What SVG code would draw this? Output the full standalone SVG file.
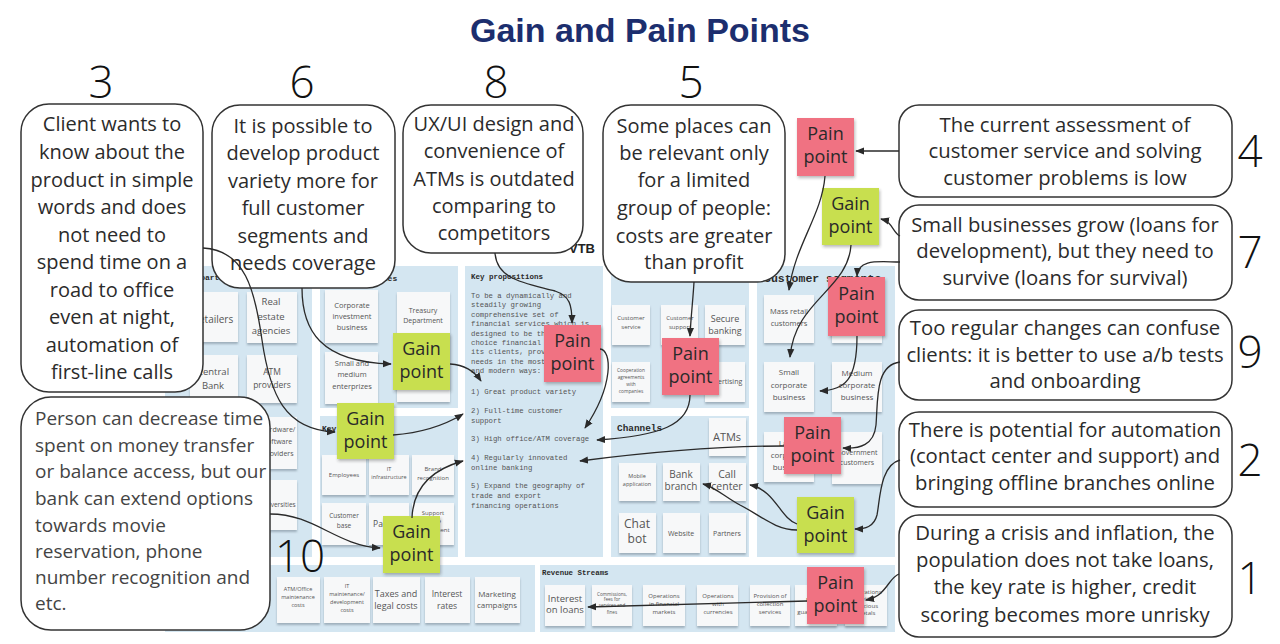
<svg xmlns="http://www.w3.org/2000/svg" width="1280" height="644" viewBox="0 0 1280 644">
<defs>
<filter id="sh" x="-20%" y="-20%" width="140%" height="160%"><feDropShadow dx="0" dy="2" stdDeviation="1.2" flood-color="#5a6a78" flood-opacity="0.45"/></filter>
<filter id="ssh" x="-20%" y="-20%" width="150%" height="150%"><feDropShadow dx="1" dy="2" stdDeviation="1.5" flood-color="#333" flood-opacity="0.35"/></filter>
<marker id="ah" viewBox="0 0 10 10" refX="9" refY="5" markerWidth="9" markerHeight="9" markerUnits="userSpaceOnUse" orient="auto"><path d="M0,1 L10,5 L0,9 z" fill="#2a2a2a"/></marker>
</defs>
<style>
.panel{fill:#d4e6f1}
.card{fill:#f7f8f9;filter:url(#sh)}
.ct{font-family:"Open Sans","Liberation Sans",sans-serif;fill:#555;text-anchor:middle}
.hd{font-family:"Liberation Mono","DejaVu Sans Mono",monospace;font-weight:bold;fill:#2a2a2a}
.mono{font-family:"Liberation Mono","DejaVu Sans Mono",monospace;fill:#555;font-size:7.3px}
.bub{fill:#fff;stroke:#333;stroke-width:1.5}
.bt{font-family:"Open Sans","Liberation Sans",sans-serif;fill:#2b2b2b;font-size:20px;text-anchor:middle}
.br{font-family:"Open Sans","Liberation Sans",sans-serif;fill:#2b2b2b;font-size:20.3px;text-anchor:middle}
.num{font-family:"Open Sans","Liberation Sans",sans-serif;font-weight:300;font-size:44px;fill:#111;text-anchor:middle}
.pain{fill:#f07282;filter:url(#ssh)}
.gain{fill:#c8df50;filter:url(#ssh)}
.st{font-family:"Open Sans","Liberation Sans",sans-serif;font-size:18px;fill:#2a2a2a;text-anchor:middle}
.cn{fill:none;stroke:#2a2a2a;stroke-width:1.3;marker-end:url(#ah)}
</style>
<rect width="1280" height="644" fill="#fff"/>
<text x="640" y="42" font-family="Liberation Sans, Arial, sans-serif" font-weight="bold" font-size="34" fill="#1c2e6e" text-anchor="middle">Gain and Pain Points</text>

<g id="canvas">
<text x="595" y="253" font-family="Liberation Sans, Arial, sans-serif" font-weight="bold" font-size="13" fill="#222" text-anchor="end">VTB</text>
<rect class="panel" x="165" y="266" width="147" height="291"/>
<rect class="panel" x="320" y="266" width="138" height="142"/>
<rect class="panel" x="320" y="416" width="138" height="141"/>
<rect class="panel" x="465" y="266" width="138" height="291"/>
<rect class="panel" x="611" y="266" width="138" height="142"/>
<rect class="panel" x="611" y="416" width="138" height="141"/>
<rect class="panel" x="757" y="266" width="138" height="291"/>
<rect class="panel" x="165" y="565" width="370" height="67"/>
<rect class="panel" x="540" y="565" width="355" height="67"/>

<text class="hd" x="181" y="280" font-size="8">Key partners</text>
<text class="hd" x="330" y="281" font-size="8">Key activities</text>
<text class="hd" x="322" y="431" font-size="8">Key resources</text>
<text class="hd" x="471" y="279" font-size="7.5">Key propositions</text>
<text class="hd" x="617" y="280" font-size="8">Customer relationships</text>
<text class="hd" x="617" y="431" font-size="9.4">Channels</text>
<text class="hd" x="764" y="282" font-size="11.5">Customer segments</text>
<text class="hd" x="542" y="575" font-size="7.4">Revenue Streams</text>

<!-- key partners -->
<rect class="card" x="190" y="292" width="48" height="50"/><text class="ct" x="213" y="323" font-size="10">Retailers</text>
<rect class="card" x="247" y="292" width="50" height="51"/><text class="ct" x="271" y="305" font-size="9.5">Real</text><text class="ct" x="271" y="320" font-size="9.5">estate</text><text class="ct" x="271" y="334" font-size="9.5">agencies</text>
<rect class="card" x="190" y="355" width="48" height="48"/><text class="ct" x="213" y="375" font-size="9.5">Central</text><text class="ct" x="213" y="389" font-size="9.5">Bank</text>
<rect class="card" x="247" y="355" width="50" height="48"/><text class="ct" x="272" y="375" font-size="8.5">ATM</text><text class="ct" x="272" y="388" font-size="8.5">providers</text>
<rect class="card" x="247" y="417" width="50" height="52"/><text class="ct" x="278" y="432" font-size="7">Hardware/</text><text class="ct" x="278" y="444" font-size="7">software</text><text class="ct" x="278" y="456" font-size="7">providers</text>
<rect class="card" x="247" y="480" width="50" height="50"/><text class="ct" x="278" y="507" font-size="6.5">Universities</text>

<!-- key activities -->
<rect class="card" x="325" y="290" width="53" height="53"/><text class="ct" x="352" y="308" font-size="7.5">Corporate</text><text class="ct" x="352" y="319" font-size="7.5">investment</text><text class="ct" x="352" y="330" font-size="7.5">business</text>
<rect class="card" x="397" y="292" width="53" height="110"/><text class="ct" x="423" y="313" font-size="7">Treasury</text><text class="ct" x="423" y="323" font-size="7">Department</text>
<rect class="card" x="325" y="352" width="53" height="52"/><text class="ct" x="352" y="366" font-size="7.5">Small and</text><text class="ct" x="352" y="377" font-size="7.5">medium</text><text class="ct" x="352" y="389" font-size="7.5">enterprizes</text>

<!-- key resources -->
<rect class="card" x="322" y="455" width="44" height="40"/><text class="ct" x="344" y="477" font-size="6">Employees</text>
<rect class="card" x="369" y="455" width="40" height="40"/><text class="ct" x="389" y="471" font-size="5.5">IT</text><text class="ct" x="389" y="479" font-size="5.5">infrastructure</text>
<rect class="card" x="412" y="455" width="42" height="40"/><text class="ct" x="433" y="471" font-size="6">Brand</text><text class="ct" x="433" y="480" font-size="6">recognition</text>
<rect class="card" x="322" y="503" width="44" height="42"/><text class="ct" x="344" y="518" font-size="6.5">Customer</text><text class="ct" x="344" y="528" font-size="6.5">base</text>
<rect class="card" x="369" y="503" width="40" height="42"/><text class="ct" x="390" y="527" font-size="8.5">Partners</text>
<rect class="card" x="412" y="503" width="42" height="42"/><text class="ct" x="433" y="515" font-size="6">Support</text><text class="ct" x="433" y="523" font-size="6">of the</text><text class="ct" x="433" y="532" font-size="6">department</text>

<!-- key propositions -->
<text class="mono" x="471" y="298">To be a dynamically and</text>
<text class="mono" x="471" y="307">steadily growing</text>
<text class="mono" x="471" y="317">comprehensive set of</text>
<text class="mono" x="471" y="326">financial services which is</text>
<text class="mono" x="471" y="336">designed to be the first</text>
<text class="mono" x="471" y="345">choice financial partner for</text>
<text class="mono" x="471" y="354">its clients, providing for</text>
<text class="mono" x="471" y="364">needs in the most convenient</text>
<text class="mono" x="471" y="373">and modern ways:</text>
<text class="mono" x="471" y="394">1) Great product variety</text>
<text class="mono" x="471" y="413">2) Full-time customer</text>
<text class="mono" x="471" y="423">support</text>
<text class="mono" x="471" y="441">3) High office/ATM coverage</text>
<text class="mono" x="471" y="460">4) Regularly innovated</text>
<text class="mono" x="471" y="470">online banking</text>
<text class="mono" x="471" y="488">5) Expand the geography of</text>
<text class="mono" x="471" y="498">trade and export</text>
<text class="mono" x="471" y="508">financing operations</text>

<!-- customer relationships -->
<rect class="card" x="612" y="305" width="38" height="40"/><text class="ct" x="631" y="320" font-size="6">Customer</text><text class="ct" x="631" y="329" font-size="6">service</text>
<rect class="card" x="661" y="305" width="37" height="40"/><text class="ct" x="680" y="320" font-size="6">Customer</text><text class="ct" x="680" y="329" font-size="6">support</text>
<rect class="card" x="705" y="305" width="40" height="40"/><text class="ct" x="725" y="322" font-size="9">Secure</text><text class="ct" x="725" y="334" font-size="9">banking</text>
<rect class="card" x="612" y="362" width="38" height="40"/><text class="ct" x="631" y="372" font-size="4.8">Cooperation</text><text class="ct" x="631" y="379" font-size="4.8">agreements</text><text class="ct" x="631" y="386" font-size="4.8">with</text><text class="ct" x="631" y="393" font-size="4.8">companies</text>
<rect class="card" x="705" y="362" width="40" height="40"/><text class="ct" x="724" y="384" font-size="7">Advertising</text>

<!-- channels -->
<rect class="card" x="709" y="418" width="37" height="38"/><text class="ct" x="727" y="441" font-size="11">ATMs</text>
<rect class="card" x="619" y="463" width="37" height="38"/><text class="ct" x="637" y="478" font-size="5.5">Mobile</text><text class="ct" x="637" y="486" font-size="5.5">application</text>
<rect class="card" x="663" y="463" width="37" height="38"/><text class="ct" x="681" y="478" font-size="10">Bank</text><text class="ct" x="681" y="490" font-size="10">branch</text>
<rect class="card" x="709" y="463" width="37" height="38"/><text class="ct" x="727" y="478" font-size="10.5">Call</text><text class="ct" x="727" y="490" font-size="10.5">center</text>
<rect class="card" x="619" y="513" width="37" height="40"/><text class="ct" x="637" y="528" font-size="12">Chat</text><text class="ct" x="637" y="543" font-size="12">bot</text>
<rect class="card" x="663" y="513" width="37" height="40"/><text class="ct" x="681" y="536" font-size="7">Website</text>
<rect class="card" x="709" y="513" width="37" height="40"/><text class="ct" x="727" y="536" font-size="7">Partners</text>

<!-- customer segments -->
<rect class="card" x="764" y="295" width="50" height="48"/><text class="ct" x="789" y="314" font-size="7.5">Mass retail</text><text class="ct" x="789" y="326" font-size="7.5">customers</text>
<rect class="card" x="832" y="295" width="50" height="48"/>
<rect class="card" x="764" y="362" width="50" height="50"/><text class="ct" x="789" y="375" font-size="8">Small</text><text class="ct" x="789" y="388" font-size="8">corporate</text><text class="ct" x="789" y="400" font-size="8">business</text>
<rect class="card" x="832" y="362" width="50" height="50"/><text class="ct" x="857" y="376" font-size="8">Medium</text><text class="ct" x="857" y="388" font-size="8">corporate</text><text class="ct" x="857" y="400" font-size="8">business</text>
<rect class="card" x="764" y="432" width="50" height="50"/><text class="ct" x="789" y="446" font-size="8">Large</text><text class="ct" x="789" y="458" font-size="8">corporate</text><text class="ct" x="789" y="470" font-size="8">business</text>
<rect class="card" x="832" y="432" width="50" height="52"/><text class="ct" x="857" y="455" font-size="7">Government</text><text class="ct" x="857" y="465" font-size="7">customers</text>

<!-- cost structure -->
<rect class="card" x="277" y="577" width="43" height="46"/><text class="ct" x="298" y="591" font-size="5.5">ATM/Office</text><text class="ct" x="298" y="599" font-size="5.5">maintenance</text><text class="ct" x="298" y="607" font-size="5.5">costs</text>
<rect class="card" x="324" y="577" width="46" height="46"/><text class="ct" x="347" y="588" font-size="5.5">IT</text><text class="ct" x="347" y="596" font-size="5.5">maintenance/</text><text class="ct" x="347" y="604" font-size="5.5">development</text><text class="ct" x="347" y="612" font-size="5.5">costs</text>
<rect class="card" x="373" y="577" width="47" height="46"/><text class="ct" x="396" y="597" font-size="9">Taxes and</text><text class="ct" x="396" y="609" font-size="9">legal costs</text>
<rect class="card" x="425" y="577" width="45" height="46"/><text class="ct" x="447" y="597" font-size="8.5">Interest</text><text class="ct" x="447" y="609" font-size="8.5">rates</text>
<rect class="card" x="475" y="577" width="45" height="46"/><text class="ct" x="497" y="597" font-size="8">Marketing</text><text class="ct" x="497" y="608" font-size="8">campaigns</text>

<!-- revenue streams -->
<rect class="card" x="545" y="585" width="40" height="41"/><text class="ct" x="565" y="602" font-size="9.5">Interest</text><text class="ct" x="565" y="613" font-size="9.5">on loans</text>
<rect class="card" x="592" y="585" width="40" height="41"/><text class="ct" x="612" y="596" font-size="4.6">Commissions,</text><text class="ct" x="612" y="601" font-size="4.6">fees for</text><text class="ct" x="612" y="607" font-size="4.6">services and</text><text class="ct" x="612" y="614" font-size="4.6">fines</text>
<rect class="card" x="643" y="585" width="42" height="41"/><text class="ct" x="664" y="598" font-size="6">Operations</text><text class="ct" x="664" y="606" font-size="6">in financial</text><text class="ct" x="664" y="614" font-size="6">markets</text>
<rect class="card" x="697" y="585" width="41" height="41"/><text class="ct" x="718" y="598" font-size="6">Operations</text><text class="ct" x="718" y="606" font-size="6">with</text><text class="ct" x="718" y="614" font-size="6">currencies</text>
<rect class="card" x="750" y="585" width="40" height="41"/><text class="ct" x="770" y="598" font-size="6">Provision of</text><text class="ct" x="770" y="606" font-size="6">collection</text><text class="ct" x="770" y="614" font-size="6">services</text>
<rect class="card" x="795" y="585" width="42" height="41"/><text class="ct" x="813" y="602" font-size="6">Bank</text><text class="ct" x="813" y="614" font-size="6">guarantees</text>
<rect class="card" x="845" y="585" width="42" height="41"/><text class="ct" x="866" y="594" font-size="6">Operations</text><text class="ct" x="866" y="601" font-size="6">with</text><text class="ct" x="866" y="608" font-size="6">precious</text><text class="ct" x="866" y="615" font-size="6">metals</text>
</g>

<g id="bubble3"><rect class="bub" x="21" y="104" width="182" height="288" rx="28"/>
<text class="bt" x="112" y="131">Client wants to</text><text class="bt" x="112" y="159">know about the</text><text class="bt" x="112" y="187">product in simple</text><text class="bt" x="112" y="214">words and does</text><text class="bt" x="112" y="242">not need to</text><text class="bt" x="112" y="269">spend time on a</text><text class="bt" x="112" y="297">road to office</text><text class="bt" x="112" y="324">even at night,</text><text class="bt" x="112" y="352">automation of</text><text class="bt" x="112" y="379">first-line calls</text></g>
<g id="bubble6"><rect class="bub" x="212" y="105" width="183" height="183" rx="28"/>
<text class="bt" x="303" y="133">It is possible to</text><text class="bt" x="303" y="160">develop product</text><text class="bt" x="303" y="188">variety more for</text><text class="bt" x="303" y="215">full customer</text><text class="bt" x="303" y="243">segments and</text><text class="bt" x="303" y="270">needs coverage</text></g>
<g id="bubble8"><rect class="bub" x="403" y="105" width="180" height="148" rx="28"/>
<text class="bt" x="494" y="131">UX/UI design and</text><text class="bt" x="494" y="158">convenience of</text><text class="bt" x="494" y="186">ATMs is outdated</text><text class="bt" x="494" y="213">comparing to</text><text class="bt" x="494" y="240">competitors</text></g>
<g id="bubble5"><rect class="bub" x="603" y="105" width="182" height="177" rx="28"/>
<text class="bt" x="694" y="133">Some places can</text><text class="bt" x="694" y="160">be relevant only</text><text class="bt" x="694" y="187">for a limited</text><text class="bt" x="694" y="215">group of people:</text><text class="bt" x="694" y="243">costs are greater</text><text class="bt" x="694" y="269">than profit</text></g>
<g id="bubble10"><rect class="bub" x="21" y="397" width="249" height="233" rx="30"/>
<g font-family="Open Sans, Liberation Sans, sans-serif" font-size="19" fill="#444">
<text x="35" y="425">Person can decrease time</text><text x="35" y="452">spent on money transfer</text><text x="35" y="478">or balance access, but our</text><text x="35" y="505">bank can extend options</text><text x="35" y="532">towards movie</text><text x="35" y="558">reservation, phone</text><text x="35" y="584">number recognition and</text><text x="35" y="610">etc.</text></g></g>
<g id="bubble4"><rect class="bub" x="899" y="105" width="333" height="92" rx="20"/>
<text class="br" x="1065" y="132">The current assessment of</text><text class="br" x="1065" y="158">customer service and solving</text><text class="br" x="1065" y="185">customer problems is low</text></g>
<g id="bubble7"><rect class="bub" x="899" y="205" width="333" height="95" rx="20"/>
<text class="br" x="1065" y="232">Small businesses grow (loans for</text><text class="br" x="1065" y="258">development), but they need to</text><text class="br" x="1065" y="285">survive (loans for survival)</text></g>
<g id="bubble9"><rect class="bub" x="899" y="310" width="333" height="90" rx="20"/>
<text class="br" x="1065" y="335">Too regular changes can confuse</text><text class="br" x="1065" y="362">clients: it is better to use a/b tests</text><text class="br" x="1065" y="388">and onboarding</text></g>
<g id="bubble2"><rect class="bub" x="899" y="412" width="333" height="95" rx="20"/>
<text class="br" x="1065" y="437">There is potential for automation</text><text class="br" x="1065" y="463">(contact center and support) and</text><text class="br" x="1065" y="490">bringing offline branches online</text></g>
<g id="bubble1"><rect class="bub" x="899" y="515" width="333" height="122" rx="20"/>
<text class="br" x="1065" y="540">During a crisis and inflation, the</text><text class="br" x="1065" y="567">population does not take loans,</text><text class="br" x="1065" y="594">the key rate is higher, credit</text><text class="br" x="1065" y="622">scoring becomes more unrisky</text></g>

<g id="numbers">
<text class="num" x="101" y="98">3</text><text class="num" x="302" y="98">6</text><text class="num" x="496" y="98">8</text><text class="num" x="691" y="98">5</text>
<text class="num" x="1250" y="167">4</text><text class="num" x="1250" y="268">7</text><text class="num" x="1250" y="368">9</text><text class="num" x="1250" y="476">2</text><text class="num" x="1250" y="594">1</text>
<text class="num" x="300" y="572">10</text>
</g>

<g id="pain-top"><rect class="pain" x="797" y="118" width="57" height="58"/><text class="st" x="825.5" y="140">Pain</text><text class="st" x="825.5" y="163">point</text></g>
<g id="gain-top"><rect class="gain" x="822" y="188" width="57" height="57"/><text class="st" x="850.5" y="210">Gain</text><text class="st" x="850.5" y="233">point</text></g>
<g id="gain-activities"><rect class="gain" x="393" y="333" width="57" height="57"/><text class="st" x="421.5" y="355">Gain</text><text class="st" x="421.5" y="378">point</text></g>
<g id="gain-resources"><rect class="gain" x="337" y="403" width="57" height="56"/><text class="st" x="365.5" y="425">Gain</text><text class="st" x="365.5" y="448">point</text></g>
<g id="gain-resources2"><rect class="gain" x="383" y="516" width="57" height="57"/><text class="st" x="411.5" y="538">Gain</text><text class="st" x="411.5" y="561">point</text></g>
<g id="pain-propositions"><rect class="pain" x="544" y="325" width="57" height="57"/><text class="st" x="572.5" y="347">Pain</text><text class="st" x="572.5" y="370">point</text></g>
<g id="pain-relationships"><rect class="pain" x="662" y="338" width="57" height="57"/><text class="st" x="690.5" y="360">Pain</text><text class="st" x="690.5" y="383">point</text></g>
<g id="pain-segments1"><rect class="pain" x="828" y="277" width="57" height="59"/><text class="st" x="856.5" y="300">Pain</text><text class="st" x="856.5" y="323">point</text></g>
<g id="pain-segments2"><rect class="pain" x="784" y="417" width="57" height="57"/><text class="st" x="812.5" y="439">Pain</text><text class="st" x="812.5" y="462">point</text></g>
<g id="gain-segments"><rect class="gain" x="797" y="497" width="57" height="56"/><text class="st" x="825.5" y="519">Gain</text><text class="st" x="825.5" y="542">point</text></g>
<g id="pain-revenue"><rect class="pain" x="807" y="567" width="57" height="57"/><text class="st" x="835.5" y="589">Pain</text><text class="st" x="835.5" y="612">point</text></g>

<g id="connectors">
<path class="cn" d="M203 248 C245 250 255 290 262 340 C270 395 285 430 335 432"/>
<path class="cn" d="M302 288 C302 330 320 362 391 364"/>
<path class="cn" d="M495 253 C497 280 525 283 555 291 C570 296 572 305 572 323"/>
<path class="cn" d="M694 282 C693 300 691 315 690 336"/>
<path class="cn" d="M450 364 C465 365 475 372 481 381"/>
<path class="cn" d="M393 435 C420 433 445 425 463 414"/>
<path class="cn" d="M412 518 C413 490 430 470 463 461"/>
<path class="cn" d="M270 514 C315 514 335 545 380 548"/>
<path class="cn" d="M600 349 C612 350 614 385 585 428"/>
<path class="cn" d="M690 395 C690 425 660 436 597 440"/>
<path class="cn" d="M784 446 C720 446 650 452 580 461"/>
<path class="cn" d="M797 524 C780 518 775 490 750 485"/>
<path class="cn" d="M797 530 C775 530 760 515 740 505 C725 497 715 487 703 484"/>
<path class="cn" d="M899 151 L856 151"/>
<path class="cn" d="M900 236 C893 233 893 222 881 219"/>
<path class="cn" d="M825 176 C822 215 795 245 789 290"/>
<path class="cn" d="M851 245 C848 290 795 300 790 357"/>
<path class="cn" d="M900 262 C880 262 858 258 857 276"/>
<path class="cn" d="M857 336 C857 380 845 390 820 391"/>
<path class="cn" d="M900 362 C875 365 878 400 876 425 C874 445 860 449 843 448"/>
<path class="cn" d="M900 460 C880 465 880 500 877 515 C874 527 865 529 855 529"/>
<path class="cn" d="M899 574 C888 578 887 596 866 600"/>
<path class="cn" d="M807 601 C720 603 650 605 588 607"/>
</g>
</svg>
